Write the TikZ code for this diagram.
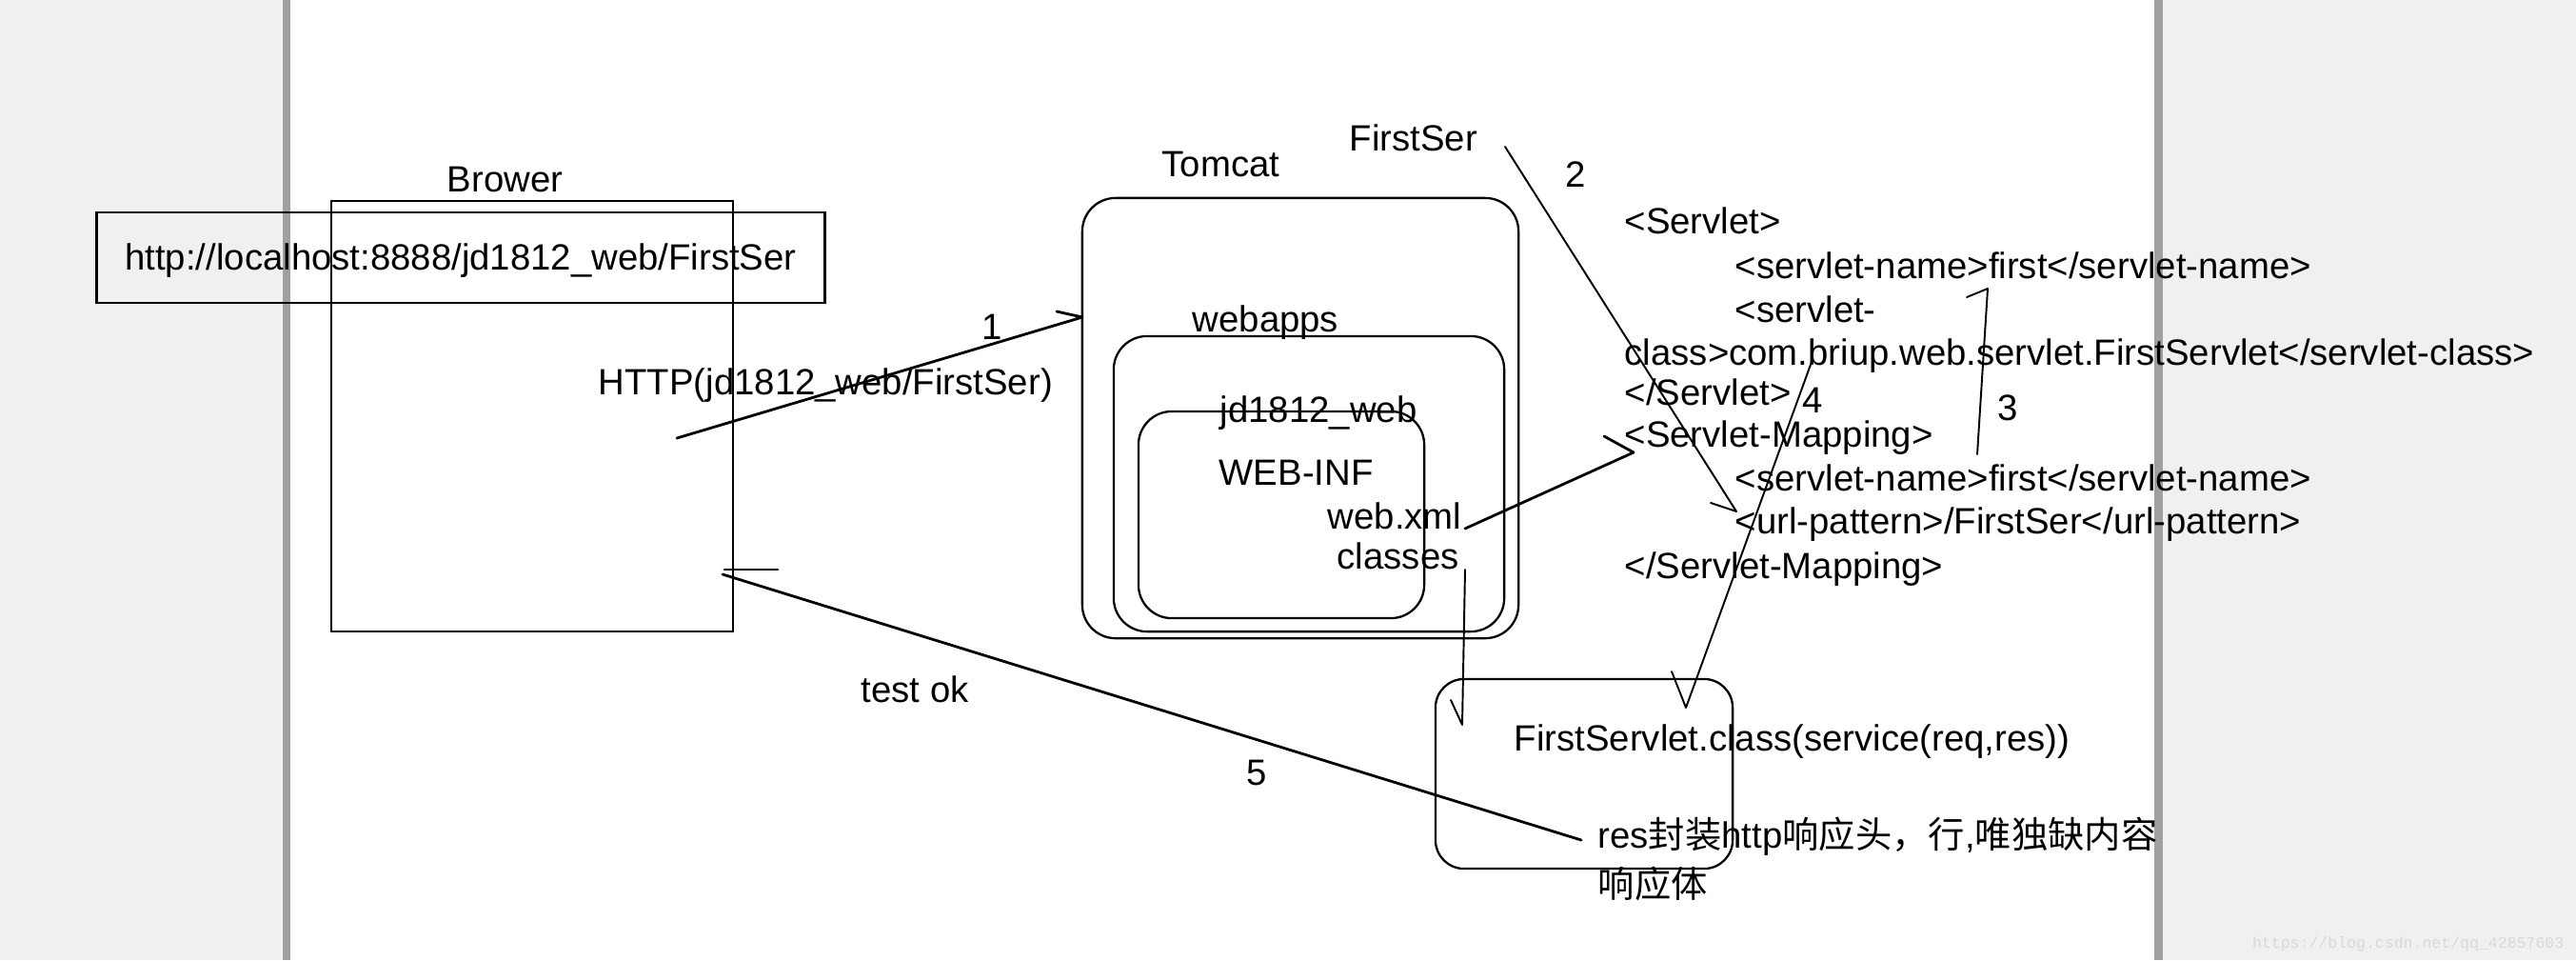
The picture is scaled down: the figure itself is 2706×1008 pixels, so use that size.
\documentclass[tikz,border=0pt]{standalone}
\usepackage{fontspec}
\setmainfont{Liberation Sans}
\newfontfamily\cjk{Noto Sans CJK SC}
\newfontfamily\wmfont{Liberation Mono}
\definecolor{panel}{HTML}{F1F0EE}
\definecolor{bar}{HTML}{A29F9F}
\definecolor{wm}{HTML}{D9D8D6}
\begin{document}
\begin{tikzpicture}[x=0.01cm,y=-0.01cm,
  box/.style={draw, line width=0.75pt, inner sep=0pt, outer sep=0pt},
  rbox/.style={box, line width=0.65pt, rounded corners=0.35cm},
  txt/.style={inner sep=0pt, font=\fontsize{10.9pt}{12.8pt}\selectfont},
  ln/.style={line width=0.8pt, line join=round, line cap=round},
  thin/.style={line width=0.55pt, line join=round, line cap=round}]
\useasboundingbox (0,0) rectangle (2706,1008);
% background panels
\fill[panel] (0,0) rectangle (297,1008);
\fill[bar] (297,0) rectangle (305,1008);
\fill[white] (305,0) rectangle (2263,1008);
\fill[bar] (2263,0) rectangle (2272,1008);
\fill[panel] (2272,0) rectangle (2706,1008);
% boxes
\node[box, minimum width=4.22cm, minimum height=4.52cm] (browser) at (559,437) {};
\node[box, minimum width=7.64cm, minimum height=0.95cm] (url) at (484,270.5) {};
\node[rbox, minimum width=4.58cm, minimum height=4.62cm] (tomcat) at (1366,439) {};
\node[rbox, minimum width=4.10cm, minimum height=3.10cm] (webapps) at (1375,508) {};
\node[rbox, minimum width=3.00cm, minimum height=2.17cm] (jdbox) at (1346,540.5) {};
\node[rbox, rounded corners=0.3cm, minimum width=3.12cm, minimum height=1.99cm] (svbox) at (1664,812.5) {};
% texts
\node[txt, anchor=base west] (brower) at (469,201) {Brower};
\node[txt, anchor=base] (urltext) at (484,283) {http://localhost:8888/jd1812\_web/FirstSer};
\node[txt, anchor=base west] (httpt) at (628,414) {HTTP(jd1812\_web/FirstSer)};
\node[txt] (n1) at (1042,343) {1};
\node[txt, anchor=base west] (tomcatl) at (1220,185) {Tomcat};
\node[txt, anchor=base west] (firstser) at (1417,158) {FirstSer};
\node[txt] (n2) at (1655,183) {2};
\node[txt, anchor=base west] (webappsl) at (1252,348) {webapps};
\node[txt, anchor=base west] (jdl) at (1281,443) {jd1812\_web};
\node[txt, anchor=base west] (webinf) at (1280,509) {WEB-INF};
\node[txt, anchor=base west] (webxml) at (1394,555) {web.xml};
\node[txt, anchor=base west] (classes) at (1404,597) {classes};
\node[txt] (n4) at (1904,420) {4};
\node[txt] (n3) at (2109,428) {3};
\node[txt] (n5) at (1320,811) {5};
\node[txt, anchor=base west] (testok) at (904,737) {test ok};
\node[txt, anchor=base west] (svtext) at (1590,788) {FirstServlet.class(service(req,res))};
\node[txt, anchor=base west] (restext) at (1678,890) {res{\cjk 封装}http{\cjk 响应头，行},{\cjk 唯独缺内容}};
\node[txt, anchor=base west] (restext2) at (1678,942) {{\cjk 响应体}};
% web.xml content
\node[txt, anchor=base west] (x1) at (1706,245) {<Servlet>};
\node[txt, anchor=base west] (x2) at (1822,292) {<servlet-name>first</servlet-name>};
\node[txt, anchor=base west] (x3) at (1822,338) {<servlet-};
\node[txt, anchor=base west] (x4) at (1706,383) {class>com.briup.web.servlet.FirstServlet</servlet-class>};
\node[txt, anchor=base west] (x5) at (1706,425) {</Servlet>};
\node[txt, anchor=base west] (x6) at (1706,469) {<Servlet-Mapping>};
\node[txt, anchor=base west] (x7) at (1822,515) {<servlet-name>first</servlet-name>};
\node[txt, anchor=base west] (x8) at (1822,560) {<url-pattern>/FirstSer</url-pattern>};
\node[txt, anchor=base west] (x9) at (1706,607) {</Servlet-Mapping>};
% watermark
\node[anchor=base east, inner sep=0pt, font=\wmfont\fontsize{4.7pt}{5pt}\selectfont, text=wm] (wmark) at (2694,995) {https://blog.csdn.net/qq\_42857603};
% connector end points
\coordinate (a1s) at (711,460);  \coordinate (a1t) at (1137,333); \coordinate (a1b) at (1110,327);
\coordinate (a2s) at (1581,154); \coordinate (a2t) at (1824,537); \coordinate (a2b) at (1797,528);
\coordinate (axs) at (1539,555); \coordinate (axt) at (1716,475); \coordinate (axb) at (1685,458);
\coordinate (acs) at (1539,598); \coordinate (act) at (1536,761); \coordinate (acb) at (1524,735);
\coordinate (a4s) at (1903,380); \coordinate (a4t) at (1771,743); \coordinate (a4b) at (1756,705);
\coordinate (a3s) at (2077,477); \coordinate (a3t) at (2088,303); \coordinate (a3b) at (2066,312);
\coordinate (a5s) at (1661,882); \coordinate (a5t) at (759,603);
\coordinate (a5b1) at (761,598); \coordinate (a5b2) at (817,598);
% connectors
\draw[ln] (a1s) -- (a1t) -- (a1b);
\draw[thin] (a2s) -- (a2t) -- (a2b);
\draw[ln] (axs) -- (axt) -- (axb);
\draw[thin] (acs) -- (act) -- (acb);
\draw[thin] (a4s) -- (a4t) -- (a4b);
\draw[thin] (a3s) -- (a3t) -- (a3b);
\draw[ln] (a5s) -- (a5t);
\draw[ln] (a5b1) -- (a5b2);
\end{tikzpicture}
\end{document}
